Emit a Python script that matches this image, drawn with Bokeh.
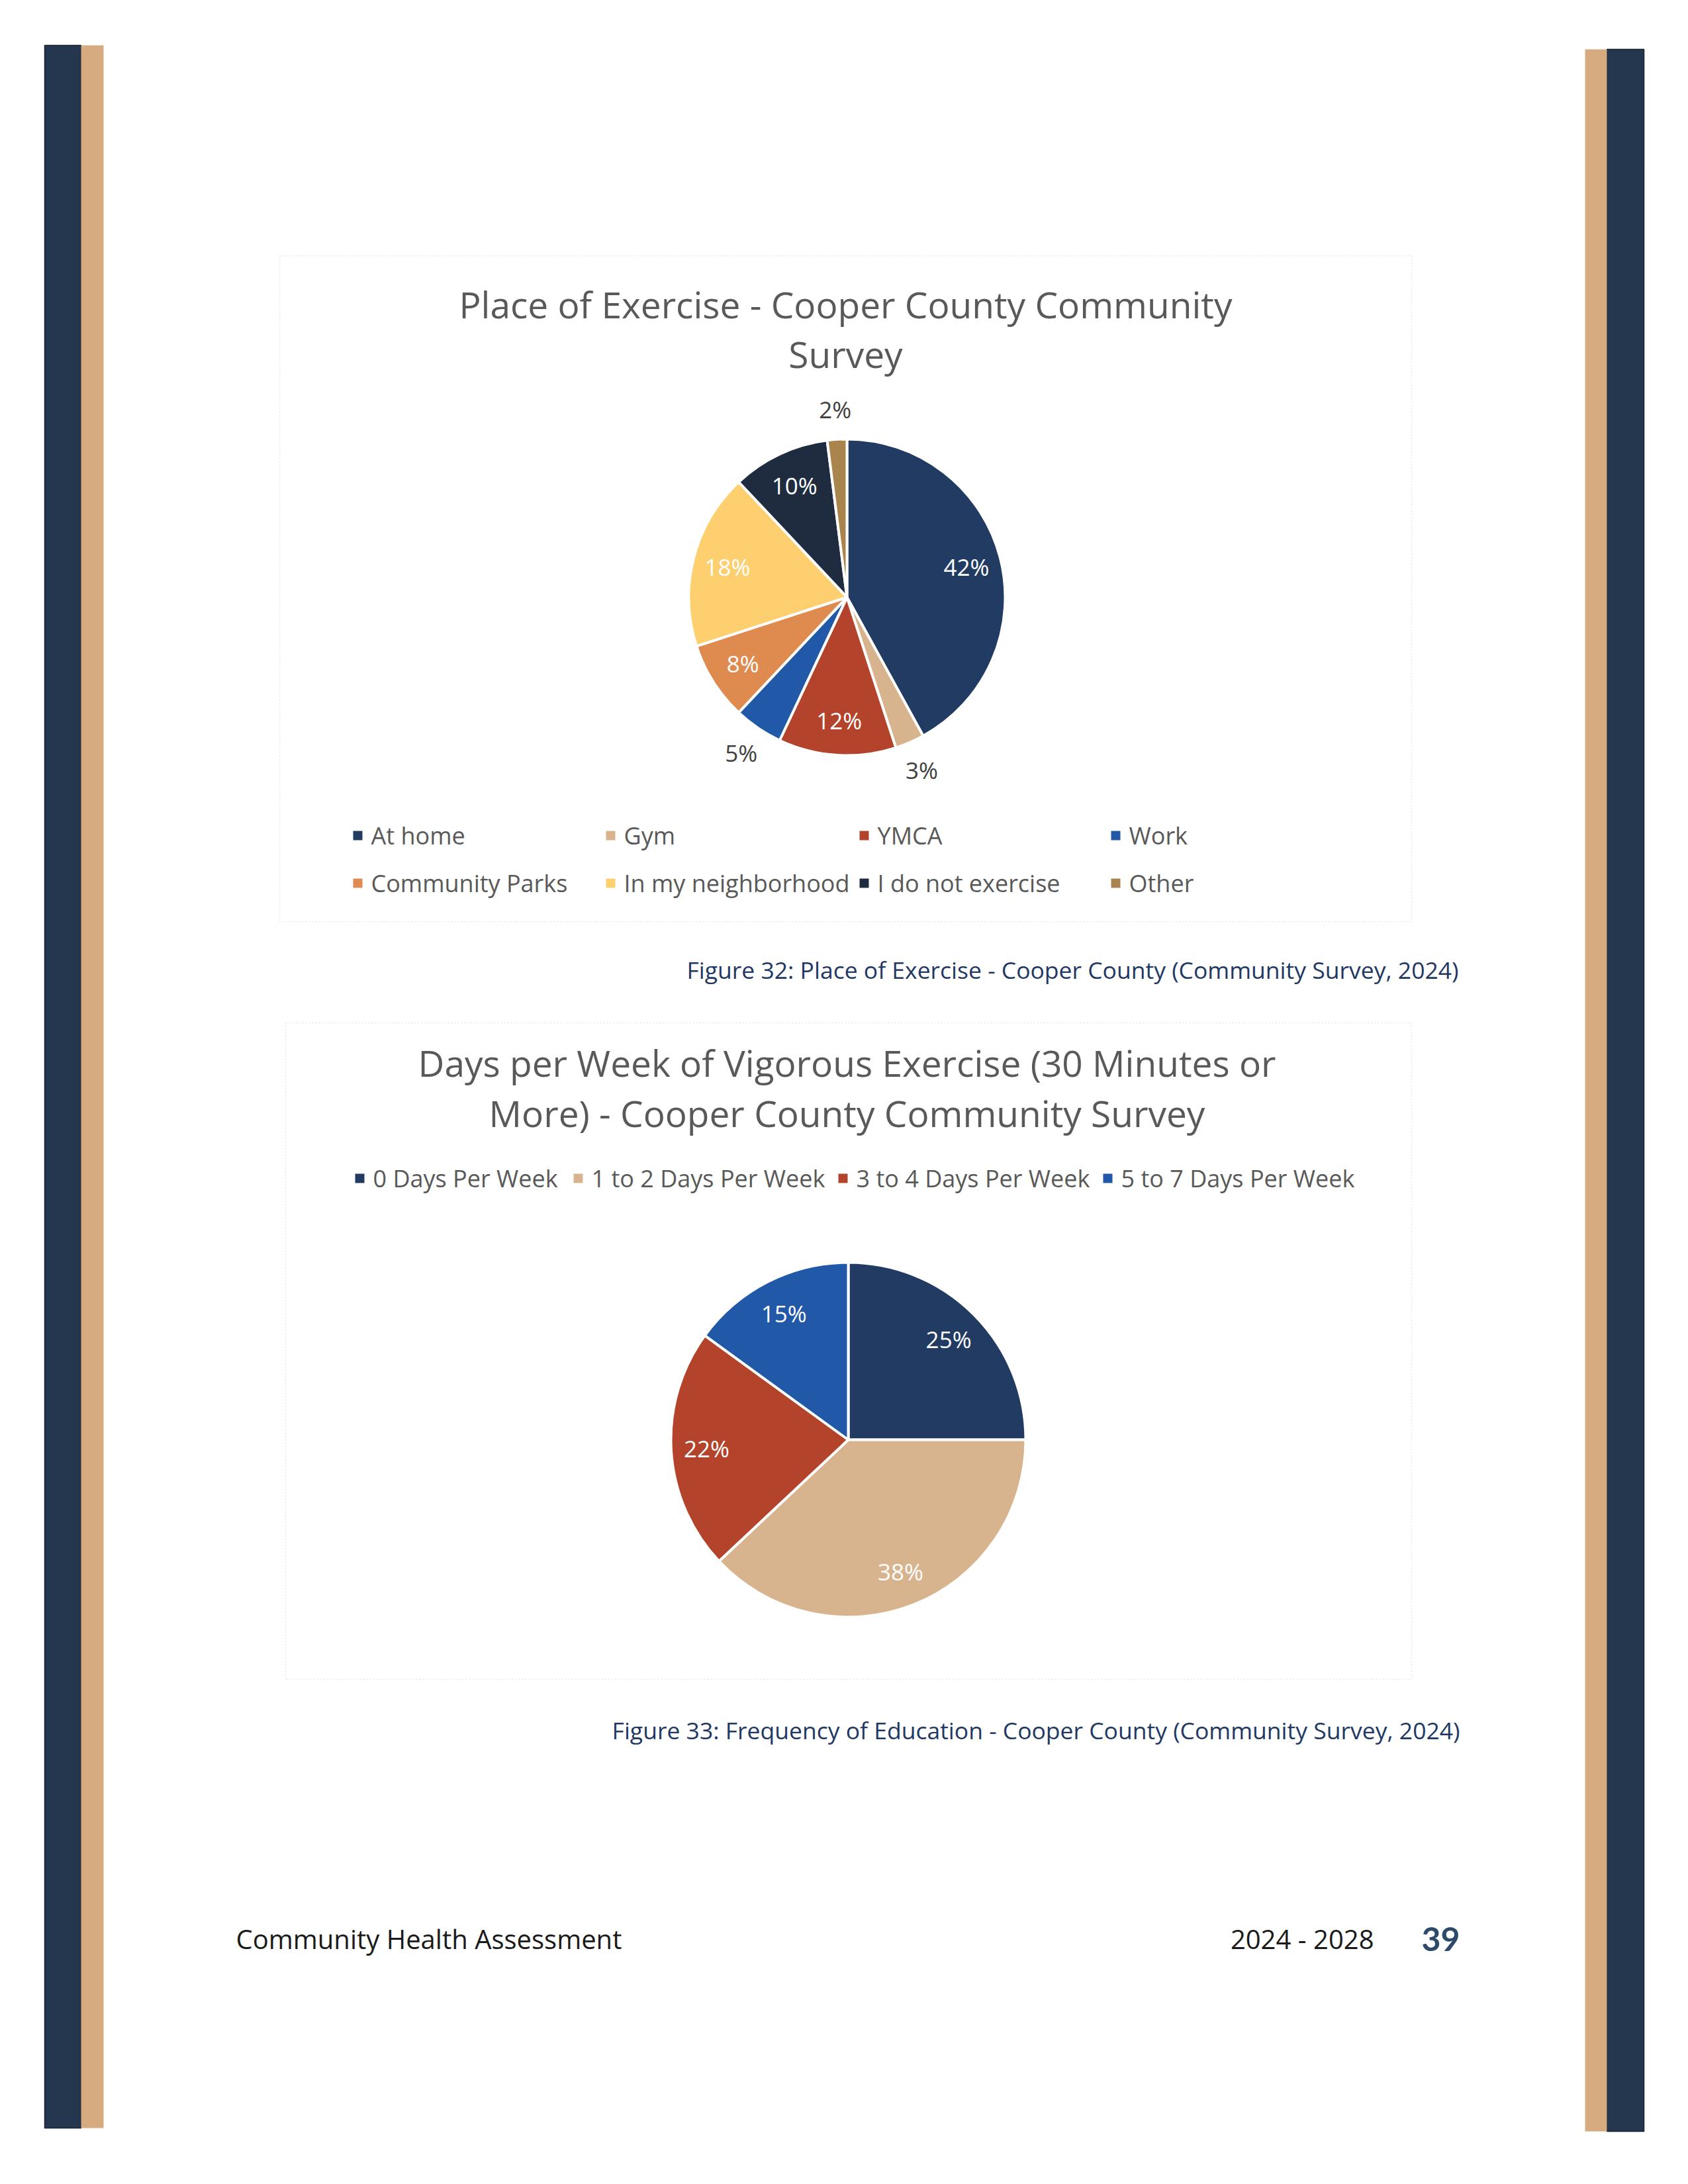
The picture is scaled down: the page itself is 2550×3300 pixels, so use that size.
import math
from bokeh.plotting import figure
from bokeh.models import ColumnDataSource, Range1d
from bokeh.core.properties import value
from bokeh.embed import file_html
from bokeh.resources import INLINE

# ---------------- data ----------------
place_categories = ["At home", "Gym", "YMCA", "Work", "Community Parks",
                    "In my neighborhood", "I do not exercise", "Other"]
place_values = [42, 3, 12, 5, 8, 18, 10, 2]
place_colors = ["#213b63", "#d8b48e", "#b3432a", "#2158a8", "#df8a4e",
                "#fecf6e", "#1f2c40", "#a9844c"]

days_categories = ["0 Days Per Week", "1 to 2 Days Per Week",
                   "3 to 4 Days Per Week", "5 to 7 Days Per Week"]
days_values = [25, 38, 22, 15]
days_colors = ["#213b63", "#d8b48e", "#b3432a", "#2158a8"]

title1 = ["Place of Exercise - Cooper County Community", "Survey"]
title2 = ["Days per Week of Vigorous Exercise (30 Minutes or",
          "More) - Cooper County Community Survey"]
caption1 = "Figure 32: Place of Exercise - Cooper County (Community Survey, 2024)"
caption2 = "Figure 33: Frequency of Education - Cooper County (Community Survey, 2024)"
footer_left = "Community Health Assessment"
footer_years = "2024 - 2028"
page_number = "39"

# ---------------- layout ----------------
W, H = 2534, 3284
M = 0
FONT = value("Open Sans")


def X(px):
    return px - M


def Y(py):
    return (M + H) - py


p = figure(width=W, height=H, x_range=Range1d(0, W), y_range=Range1d(0, H),
           x_axis_type=None, y_axis_type=None, toolbar_location=None,
           output_backend="svg", min_border=0)
p.grid.visible = False
p.outline_line_color = None
p.background_fill_color = "white"
p.border_fill_color = "white"

# side bars
p.quad(left=[X(67), X(2427)], right=[X(122), X(2483)],
       bottom=[Y(3215), Y(3220)], top=[Y(68), Y(74)],
       fill_color="#24374f", line_color="#1a2433", line_width=1.5)
p.quad(left=[X(122), X(2394)], right=[X(156), X(2427)],
       bottom=[Y(3215), Y(3220)], top=[Y(68), Y(74)],
       fill_color="#d6ab7f", line_color=None)

# faint chart-area borders
for (l, r, t, b) in [(422, 2132, 386, 1392), (431, 2132, 1545, 2537)]:
    p.line([X(l), X(r), X(r), X(l), X(l)], [Y(t), Y(t), Y(b), Y(b), Y(t)],
           line_color="#e6e6e6", line_width=1.5, line_dash="2 3")


def pie(values, colors, cx, cy, r, inside_frac, outside_frac, outside_limit):
    total = float(sum(values))
    starts, ends, lx, ly, labels, lcol = [], [], [], [], [], []
    cum = 0.0
    for v in values:
        a0 = math.pi / 2 - 2 * math.pi * cum / total
        cum += v
        a1 = math.pi / 2 - 2 * math.pi * cum / total
        starts.append(a0)
        ends.append(a1)
        mid = (a0 + a1) / 2
        frac = outside_frac if v <= outside_limit else inside_frac
        lx.append(cx + frac * r * math.cos(mid))
        ly.append(cy + frac * r * math.sin(mid))
        labels.append(f"{v}%")
        lcol.append("#404040" if v <= outside_limit else "white")
    src = ColumnDataSource(dict(start=starts, end=ends, color=colors))
    p.wedge(x=cx, y=cy, radius=r, start_angle="start", end_angle="end",
            direction="clock", fill_color="color", line_color="white",
            line_width=4, source=src)
    lsrc = ColumnDataSource(dict(x=lx, y=ly, text=labels, color=lcol))
    p.text(x="x", y="y", text="text", text_color="color", source=lsrc,
           text_font=FONT, text_font_size="35px", text_align="center",
           text_baseline="middle")


def text(x, y, s, size, color, align="center", style="normal", font=FONT):
    p.text(x=[x], y=[y], text=[s], text_font=font, text_font_size=size,
           text_color=color, text_align=align, text_baseline="middle",
           text_font_style=style)


# ---------- chart 1 ----------
text(X(1277), Y(459), title1[0], "55px", "#595959")
text(X(1277), Y(534), title1[1], "55px", "#595959")
pie(place_values, place_colors, X(1279), Y(902), 239, 0.78, 1.19, 5)

leg_x = [540, 922, 1305, 1685]
leg_y = [1262, 1334]
for i, (name, col) in enumerate(zip(place_categories, place_colors)):
    row, c = divmod(i, 4)
    p.scatter(x=[X(leg_x[c])], y=[Y(leg_y[row])], marker="square", size=14,
              fill_color=col, line_color=None)
    text(X(leg_x[c] + 20), Y(leg_y[row]), name, "36px", "#595959", align="left")

text(X(2203), Y(1464), caption1, "35.5px", "#1f3864", align="right")

# ---------- chart 2 ----------
text(X(1279), Y(1605), title2[0], "55px", "#595959")
text(X(1279), Y(1681), title2[1], "55px", "#595959")

leg2_x = [543, 873, 1273, 1673]
for name, col, lx in zip(days_categories, days_colors, leg2_x):
    p.scatter(x=[X(lx)], y=[Y(1780)], marker="square", size=14,
              fill_color=col, line_color=None)
    text(X(lx + 20), Y(1780), name, "36px", "#595959", align="left")

pie(days_values, days_colors, X(1281), Y(2175), 268, 0.80, 1.19, 5)

text(X(2205), Y(2613), caption2, "35.5px", "#1f3864", align="right")

# ---------- footer ----------
text(X(356), Y(2929), footer_left, "40px", "#1a1a1a", align="left")
text(X(2075), Y(2929), footer_years, "40px", "#1a1a1a", align="right")
text(X(2205), Y(2929), page_number, "50px", "#2e4a6b", align="right",
     style="bold", font=value("Lato"))

open("out.html", "w").write(file_html(p, INLINE))
